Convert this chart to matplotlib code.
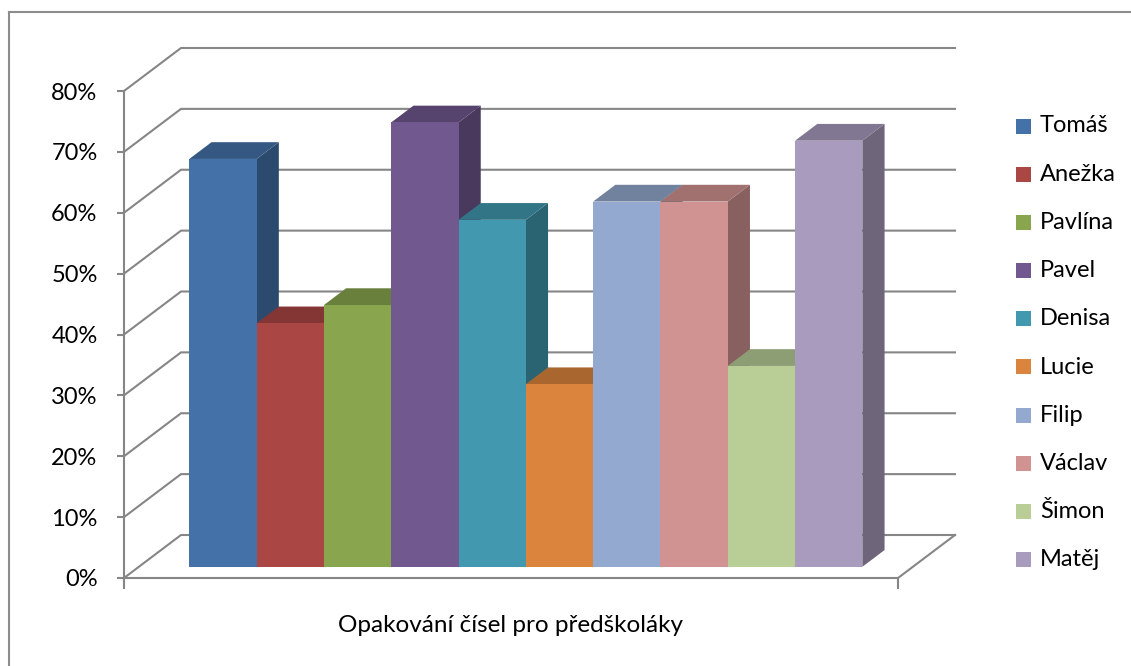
import matplotlib
matplotlib.use("Agg")
import matplotlib.pyplot as plt
from matplotlib.patches import Polygon, Rectangle
from matplotlib.lines import Line2D
from matplotlib.colors import to_rgb

# ---- data -------------------------------------------------------------
names = ["Tomáš", "Anežka", "Pavlína", "Pavel", "Denisa",
         "Lucie", "Filip", "Václav", "Šimon", "Matěj"]
values = [0.67, 0.40, 0.43, 0.73, 0.57, 0.30, 0.60, 0.60, 0.33, 0.70]
colors = ["#4472A8", "#AA4643", "#89A54E", "#71588F", "#4198AF",
          "#DB843D", "#93A9CF", "#D19392", "#B9CD96", "#A99BBD"]
y_ticks = [0.0, 0.1, 0.2, 0.3, 0.4, 0.5, 0.6, 0.7, 0.8]
y_tick_labels = ["0%", "10%", "20%", "30%", "40%", "50%", "60%", "70%", "80%"]
category_label = "Opakování čísel pro předškoláky"

plt.rcParams["font.family"] = ["Lato", "DejaVu Sans"]

W, H = 1131, 666
fig = plt.figure(figsize=(W / 100, H / 100), dpi=100)

# front plane of the 3-D box: x in [0, 1], value in [0, 0.8]
ax = fig.add_axes([124 / W, (H - 578) / H, 774 / W, 487 / H])
ax.set_xlim(0, 1)
ax.set_ylim(0, 0.8)
ax.patch.set_visible(False)

# oblique depth offset (full depth of the floor) in data units
DX = 57 / 774
DY = 43 / 487 * 0.8
GRID = "#868686"

# back wall gridlines with their diagonals on the side wall
for v in y_ticks:
    ax.add_line(Line2D([0, DX, 1 + DX], [v, v + DY, v + DY],
                       color=GRID, lw=1.5, clip_on=False, zorder=1,
                       solid_joinstyle="miter"))
# right edge of the floor
ax.add_line(Line2D([1, 1 + DX], [0, DY], color=GRID, lw=1.5,
                   clip_on=False, zorder=1))

# bars as oblique boxes
n = len(values)
gap_frac = 1.5
bw = 1 / (n + gap_frac)
gap = gap_frac / 2 * bw
f0, f1 = 0.26, 0.65          # depth range occupied by the bars
ox0, oy0 = DX * f0, DY * f0
ddx, ddy = DX * (f1 - f0), DY * (f1 - f0)


def shade(c, k):
    r, g, b = to_rgb(c)
    return (r * k, g * k, b * k)


for i, (v, c) in enumerate(zip(values, colors)):
    x0 = gap + i * bw + ox0
    x1 = x0 + bw
    yb = oy0
    yt = v + oy0
    z = 3 + i * 0.01
    front = Polygon([(x0, yb), (x1, yb), (x1, yt), (x0, yt)],
                    closed=True, fc=c, ec="none", clip_on=False, zorder=z)
    top = Polygon([(x0, yt), (x1, yt), (x1 + ddx, yt + ddy), (x0 + ddx, yt + ddy)],
                  closed=True, fc=shade(c, 0.77), ec="none", clip_on=False, zorder=z)
    side = Polygon([(x1, yb), (x1 + ddx, yb + ddy), (x1 + ddx, yt + ddy), (x1, yt)],
                   closed=True, fc=shade(c, 0.65), ec="none", clip_on=False, zorder=z)
    for p in (side, top, front):
        ax.add_patch(p)

# axes styling
for s in ("top", "right"):
    ax.spines[s].set_visible(False)
for s in ("left", "bottom"):
    ax.spines[s].set_color(GRID)
    ax.spines[s].set_linewidth(1.5)
    ax.spines[s].set_zorder(2)

ax.set_yticks(y_ticks)
ax.set_yticklabels(y_tick_labels)
ax.tick_params(axis="y", direction="out", length=5, width=1.5, color=GRID,
               labelsize=17, pad=14, labelcolor="black")
ax.set_xticks([0, 1])
ax.set_xticklabels(["", ""])
ax.tick_params(axis="x", direction="out", length=8, width=1.5, color=GRID)
ax.set_xlabel(category_label, fontsize=17.5, labelpad=15)

# legend: colour squares with names, one row per series
leg_top, leg_step = 126, 48.2
for i, (name, c) in enumerate(zip(names, colors)):
    yc = leg_top + i * leg_step
    fig.add_artist(Rectangle((1016 / W, 1 - (yc + 7.5) / H), 15 / W, 15 / H,
                             transform=fig.transFigure, fc=c, ec="none"))
    fig.text(1040 / W, 1 - yc / H, name, fontsize=17, va="center", ha="left")

# chart frame
fig.add_artist(Line2D([8.5 / W, 8.5 / W], [0, 1 - 12 / H], transform=fig.transFigure,
                      color="#8C8C8C", lw=1.5))
fig.add_artist(Line2D([8.5 / W, 1], [1 - 12 / H, 1 - 12 / H], transform=fig.transFigure,
                      color="#8C8C8C", lw=1.5))

fig.savefig("out.png", dpi=100, facecolor="white")
